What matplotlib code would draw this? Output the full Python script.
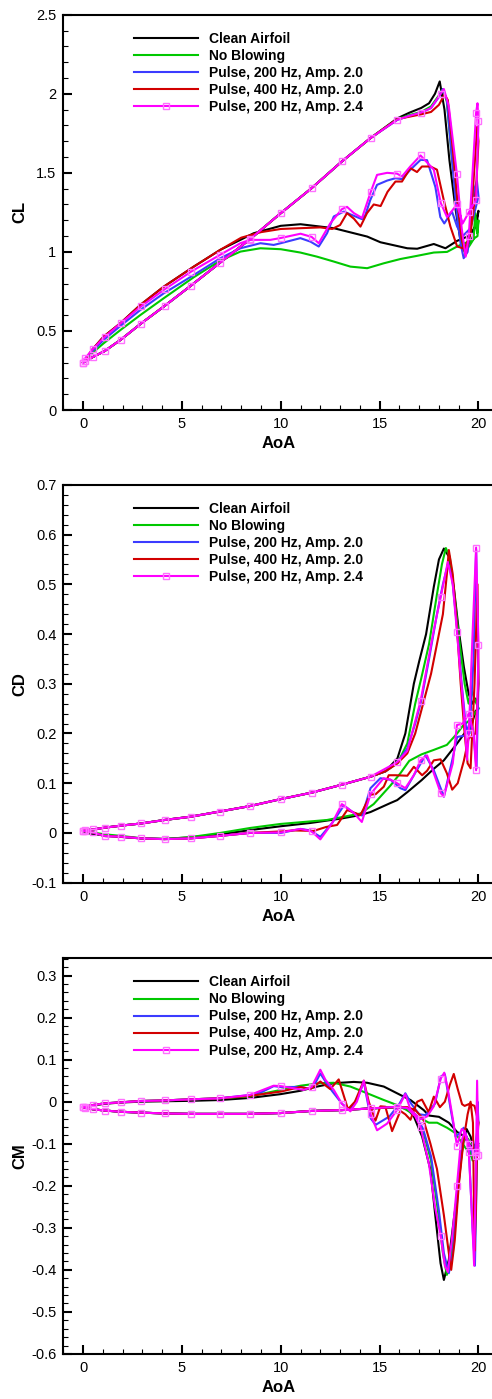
import matplotlib
matplotlib.use('Agg')
import matplotlib.pyplot as plt
from matplotlib.lines import Line2D
from matplotlib.ticker import MultipleLocator, FuncFormatter

plt.rcParams['font.family'] = ['Liberation Sans', 'DejaVu Sans']

# ---------------- legend / series ----------------
labels = ['Clean Airfoil', 'No Blowing', 'Pulse, 200 Hz, Amp. 2.0',
          'Pulse, 400 Hz, Amp. 2.0', 'Pulse, 200 Hz, Amp. 2.4']

# AoA values at which the square symbols of the last series sit
marker_aoa = [0.0, 0.12, 0.49, 1.09, 1.91, 2.93, 4.12, 5.46, 6.91, 8.44, 10.0,
              11.56, 13.09, 14.54, 15.88, 17.07, 18.09, 18.91, 19.51, 19.88, 20.0]

# ================= CL =================
cl_up_aoa = [0.0, 0.49, 1.09, 1.91, 2.93, 4.12, 5.46, 6.91, 8.44, 10.0, 11.56, 13.09, 14.54]
cl_up = [0.30, 0.335, 0.373, 0.445, 0.547, 0.658, 0.787, 0.93, 1.08, 1.245, 1.403, 1.572, 1.72]

cl_clean_aoa = [15.9, 16.5, 17.1, 17.5, 17.8, 18.04, 18.28, 18.53, 18.84, 19.08, 19.25, 19.45, 19.7, 19.88, 20.0,
                19.9, 19.5, 18.92, 18.33, 17.74, 16.9, 16.4, 15.04, 14.37, 12.68, 11.0, 10.0, 8.63, 6.94, 5.6,
                4.08, 2.9, 1.89, 1.04, 0.45, 0.1, 0.0]
cl_clean = [1.845, 1.88, 1.91, 1.94, 2.0, 2.078, 1.9, 1.58, 1.27, 1.08, 1.01, 1.04, 1.09, 1.2, 1.26,
            1.17, 1.1, 1.07, 1.023, 1.05, 1.02, 1.023, 1.061, 1.097, 1.15, 1.175, 1.165, 1.118, 1.013, 0.907,
            0.78, 0.665, 0.549, 0.464, 0.38, 0.31, 0.30]

cl_noblow_aoa = [15.9, 16.5, 17.1, 17.6, 18.0, 18.2, 18.4, 18.65, 18.9, 19.1, 19.3, 19.55, 19.75, 19.84, 19.93, 20.0,
                 19.95, 19.6, 19.2, 18.92, 18.41, 17.74, 16.89, 16.05, 15.21, 14.37, 13.52, 12.68, 11.83, 10.99,
                 10.0, 8.97, 7.96, 6.94, 5.6, 4.08, 2.9, 1.89, 1.04, 0.45, 0.0]
cl_noblow = [1.84, 1.865, 1.885, 1.92, 1.99, 2.03, 1.95, 1.6, 1.3, 1.1, 1.0, 1.04, 1.08, 1.245, 1.12, 1.2,
             1.1, 1.07, 1.05, 1.034, 1.0, 0.996, 0.975, 0.955, 0.928, 0.897, 0.907, 0.939, 0.97, 0.996,
             1.017, 1.023, 1.002, 0.945, 0.84, 0.707, 0.601, 0.506, 0.422, 0.359, 0.30]

cl_p200_aoa = [15.9, 16.5, 17.1, 17.6, 18.0, 18.2, 18.4, 18.65, 18.9, 19.1, 19.25, 19.45, 19.65, 19.8, 19.92,
               20.0, 19.88, 19.6, 19.2, 18.92, 18.66, 18.27, 18.07, 17.82, 17.4, 17.07, 16.55, 16.13, 15.8, 15.38,
               14.87, 14.53, 14.28, 14.11, 13.7, 13.19, 12.68, 12.34, 11.92, 11.5, 10.99, 10.0, 9.64, 8.97, 7.96,
               6.94, 5.6, 4.08, 2.9, 1.89, 1.04, 0.45, 0.0]
cl_p200 = [1.835, 1.86, 1.88, 1.91, 1.98, 2.03, 1.96, 1.6, 1.25, 1.05, 0.96, 1.0, 1.2, 1.4, 1.45,
           1.35, 1.29, 1.15, 1.1, 1.16, 1.255, 1.18, 1.22, 1.41, 1.58, 1.582, 1.519, 1.46, 1.466, 1.451,
           1.424, 1.329, 1.234, 1.207, 1.228, 1.255, 1.224, 1.118, 1.034, 1.065, 1.087, 1.055, 1.044, 1.055, 1.023,
           0.96, 0.854, 0.738, 0.633, 0.532, 0.443, 0.37, 0.30]

cl_p400_aoa = [15.9, 16.5, 17.1, 17.6, 18.0, 18.28, 18.45, 18.7, 18.95, 19.15, 19.35, 19.55, 19.75, 19.93,
               20.0, 19.88, 19.6, 19.3, 18.92, 18.58, 18.24, 17.9, 17.57, 17.14, 16.89, 16.55, 16.13, 15.8, 15.4,
               15.05, 14.7, 14.36, 14.03, 13.7, 13.35, 13.0, 12.6, 12.0, 11.0, 10.0, 9.0, 8.0, 6.94, 5.6, 4.08,
               2.9, 1.89, 1.04, 0.45, 0.0]
cl_p400 = [1.84, 1.855, 1.87, 1.885, 1.93, 1.995, 1.96, 1.65, 1.3, 1.08, 0.98, 1.1, 1.45, 1.79,
           1.7, 1.4, 1.12, 1.02, 1.034, 1.16, 1.33, 1.52, 1.54, 1.54, 1.505, 1.53, 1.445, 1.445, 1.38,
           1.29, 1.30, 1.245, 1.16, 1.21, 1.245, 1.17, 1.145, 1.155, 1.15, 1.145, 1.125, 1.09, 1.013, 0.907, 0.78,
           0.665, 0.549, 0.464, 0.38, 0.30]

cl_p24_aoa = [0.0, 0.12, 0.49, 1.09, 1.91, 2.93, 4.12, 5.46, 6.91, 8.44, 10.0, 11.56, 13.09, 14.54, 15.88,
              16.5, 17.07, 17.6, 18.09, 18.25, 18.5, 18.91, 19.15, 19.35, 19.51, 19.7, 19.88, 19.95, 20.0,
              19.88, 19.51, 19.2, 18.91, 18.41, 18.09, 17.74, 17.07, 16.55, 16.13, 15.88, 15.38, 14.87, 14.54,
              14.11, 13.7, 13.35, 13.09, 12.5, 11.92, 11.56, 11.0, 10.0, 9.47, 8.44, 7.96, 6.91, 5.46, 4.12,
              2.93, 1.91, 1.09, 0.49, 0.12, 0.0]
cl_p24 = [0.30, 0.31, 0.335, 0.373, 0.445, 0.547, 0.658, 0.787, 0.93, 1.08, 1.245, 1.403, 1.572, 1.72, 1.835,
          1.86, 1.88, 1.91, 2.0, 2.03, 1.92, 1.49, 1.15, 0.97, 1.1, 1.5, 1.88, 1.94, 1.825,
          1.33, 1.25, 1.18, 1.30, 1.22, 1.31, 1.52, 1.61, 1.54, 1.477, 1.495, 1.5, 1.487, 1.376,
          1.215, 1.245, 1.285, 1.27, 1.18, 1.055, 1.095, 1.115, 1.088, 1.076, 1.076, 1.055, 0.98, 0.875, 0.763,
          0.655, 0.55, 0.462, 0.385, 0.33, 0.30]

# ================= CD =================
cd_up_aoa = [0.0, 0.49, 1.09, 1.91, 2.93, 4.12, 5.46, 6.91, 8.44, 10.0, 11.56, 13.09, 14.54]
cd_up = [0.0045, 0.007, 0.0105, 0.0146, 0.019, 0.026, 0.0327, 0.043, 0.054, 0.068, 0.081, 0.097, 0.113]

cd_clean_aoa = [15.3, 15.9, 16.3, 16.73, 17.0, 17.35, 17.74, 18.0, 18.25, 18.5, 18.75, 19.0, 19.26, 19.5, 19.7,
                19.85, 20.0,
                19.85, 19.6, 19.34, 18.92, 18.25, 17.74, 17.12, 16.4, 15.89, 15.54, 14.54, 14.03, 13.07, 11.5,
                10.0, 8.5, 6.9, 5.43, 4.11, 2.9, 1.89, 1.04, 0.12, 0.0]
cd_clean = [0.124, 0.15, 0.2, 0.3, 0.345, 0.4, 0.495, 0.55, 0.572, 0.556, 0.495, 0.408, 0.334, 0.28, 0.26,
            0.27, 0.25,
            0.245, 0.21, 0.203, 0.18, 0.146, 0.129, 0.106, 0.082, 0.066, 0.06, 0.042, 0.036, 0.029, 0.02,
            0.0134, 0.006, -0.003, -0.009, -0.012, -0.011, -0.008, -0.005, 0.0, 0.0045]

cd_noblow_aoa = [15.3, 15.9, 16.4, 16.8, 17.1, 17.5, 17.9, 18.15, 18.35, 18.55, 18.8, 19.05, 19.3, 19.5, 19.65,
                 19.8, 20.0,
                 19.8, 19.5, 19.2, 18.92, 18.4, 17.74, 17.12, 16.5, 16.05, 15.54, 14.7, 14.03, 12.34, 9.98,
                 8.46, 6.95, 5.43, 4.11, 2.9, 1.89, 1.09, 0.12, 0.0]
cd_noblow = [0.124, 0.14, 0.18, 0.26, 0.31, 0.38, 0.48, 0.54, 0.573, 0.555, 0.47, 0.38, 0.3, 0.26, 0.287,
             0.27, 0.25,
             0.24, 0.225, 0.215, 0.2, 0.177, 0.167, 0.158, 0.145, 0.12, 0.095, 0.058, 0.039, 0.026, 0.018,
             0.01, 0.0, -0.0084, -0.0124, -0.0104, -0.006, -0.0027, 0.0027, 0.0045]

cd_p200_aoa = [15.3, 15.9, 16.4, 16.8, 17.1, 17.5, 17.9, 18.2, 18.45, 18.65, 18.9, 19.15, 19.4, 19.55, 19.75, 19.88,
               20.0, 19.9, 19.75, 19.6, 19.34, 18.92, 18.67, 18.25, 17.74, 17.32, 16.73, 16.3, 16.05, 15.55,
               15.04, 14.54, 14.11, 13.7, 13.19, 12.6, 12.0, 11.5, 11.0, 10.0, 8.44, 6.91, 5.46, 4.12, 2.93,
               1.91, 1.09, 0.49, 0.12, 0.0]
cd_p200 = [0.124, 0.142, 0.17, 0.22, 0.265, 0.35, 0.44, 0.5, 0.54, 0.52, 0.42, 0.3, 0.2, 0.2, 0.35, 0.57,
           0.3, 0.13, 0.2, 0.227, 0.196, 0.193, 0.146, 0.073, 0.126, 0.156, 0.116, 0.086, 0.09, 0.107,
           0.11, 0.09, 0.035, 0.04, 0.055, 0.02, -0.008, 0.005, 0.008, 0.0, 0.0, -0.006, -0.011, -0.0125, -0.011,
           -0.0076, -0.0063, 0.001, 0.003, 0.0045]

cd_p400_aoa = [15.3, 15.9, 16.4, 16.8, 17.2, 17.6, 17.9, 18.2, 18.4, 18.5, 18.7, 18.9, 19.1, 19.3, 19.45, 19.6,
               19.8, 19.95,
               20.0, 19.85, 19.5, 19.26, 18.95, 18.67, 18.4, 18.08, 17.74, 17.4, 17.15, 16.73, 16.4, 15.8, 15.46,
               15.21, 14.8, 14.54, 14.03, 13.36, 12.85, 12.3, 11.66, 10.65, 10.0, 8.44, 6.91, 5.46, 4.12, 2.93,
               1.91, 1.09, 0.49, 0.12, 0.0]
cd_p400 = [0.124, 0.14, 0.16, 0.2, 0.26, 0.32, 0.38, 0.44, 0.52, 0.569, 0.52, 0.42, 0.3, 0.2, 0.14, 0.13,
           0.3, 0.5,
           0.3, 0.2, 0.19, 0.145, 0.1, 0.087, 0.12, 0.148, 0.146, 0.125, 0.116, 0.133, 0.115, 0.116, 0.116,
           0.093, 0.078, 0.077, 0.036, 0.046, 0.016, 0.012, 0.004, 0.005, 0.003, 0.0, -0.006, -0.011, -0.0125, -0.011,
           -0.0076, -0.0063, 0.001, 0.003, 0.0045]

cd_p24_aoa = [0.0, 0.12, 0.49, 1.09, 1.91, 2.93, 4.12, 5.46, 6.91, 8.44, 10.0, 11.56, 13.09, 14.54, 15.88,
              16.4, 17.07, 17.4, 17.74, 18.09, 18.45, 18.7, 18.91, 19.07, 19.24, 19.42, 19.51, 19.7, 19.88, 20.0,
              19.88, 19.75, 19.51, 19.2, 18.91, 18.7, 18.25, 18.09, 17.74, 17.4, 17.07, 16.73, 16.3, 15.88,
              15.55, 15.2, 14.54, 14.1, 13.7, 13.09, 12.6, 12.0, 11.56, 11.0, 10.0, 8.44, 6.91, 5.46, 4.12,
              2.93, 1.91, 1.09, 0.49, 0.12, 0.0]
cd_p24 = [0.0045, 0.005, 0.007, 0.0105, 0.0146, 0.019, 0.026, 0.0327, 0.043, 0.054, 0.068, 0.081, 0.097, 0.113,
          0.142, 0.165, 0.265, 0.335, 0.408, 0.475, 0.545, 0.5, 0.405, 0.328, 0.255, 0.147, 0.2, 0.4, 0.574, 0.378,
          0.126, 0.2, 0.24, 0.22, 0.217, 0.14, 0.073, 0.08, 0.12, 0.156, 0.146, 0.116, 0.09, 0.1,
          0.107, 0.11, 0.078, 0.022, 0.04, 0.058, 0.02, -0.013, 0.003, 0.008, 0.001, 0.0, -0.006, -0.011, -0.0125,
          -0.011, -0.0076, -0.0063, 0.001, 0.003, 0.0045]

# ================= CM =================
cm_up_aoa = [0.0, 0.49, 1.09, 1.91, 2.93, 4.12, 5.46, 6.91, 8.44, 10.0, 11.56, 13.09, 14.54, 15.88]
cm_up = [-0.013, -0.018, -0.021, -0.024, -0.026, -0.028, -0.029, -0.029, -0.029, -0.027, -0.022, -0.02, -0.016, -0.013]

cm_clean_aoa = [16.4, 16.73, 17.15, 17.57, 17.82, 18.08, 18.25, 18.5, 18.75, 19.0, 19.2, 19.4, 19.6, 19.75, 19.93, 20.0,
                19.7, 19.45, 19.2, 18.92, 18.5, 18.0, 17.5, 17.23, 16.56, 16.05, 15.21, 14.37, 13.69, 12.68,
                11.84, 11.0, 10.0, 8.47, 6.95, 5.45, 4.1, 2.9, 1.9, 1.1, 0.5, 0.0]
cm_clean = [-0.017, -0.035, -0.083, -0.162, -0.273, -0.384, -0.424, -0.376, -0.281, -0.194, -0.1, -0.065, -0.083,
            -0.11, -0.095, -0.1,
            -0.11, -0.095, -0.08, -0.072, -0.05, -0.036, -0.033, -0.02, 0.004, 0.016, 0.036, 0.045, 0.047, 0.044,
            0.036, 0.026, 0.018, 0.009, 0.004, 0.002, 0.001, 0.0, -0.002, -0.005, -0.009, -0.013]

cm_noblow_aoa = [16.4, 16.8, 17.2, 17.6, 17.95, 18.2, 18.4, 18.6, 18.85, 19.1, 19.3, 19.5, 19.7, 19.85, 19.95, 20.0,
                 19.76, 19.43, 19.17, 18.84, 18.41, 17.91, 17.49, 16.9, 16.05, 15.21, 14.37, 13.52, 12.68, 12.0,
                 11.0, 10.0, 8.47, 6.91, 5.46, 4.11, 2.9, 1.89, 1.09, 0.49, 0.0]
cm_noblow = [-0.015, -0.03, -0.07, -0.14, -0.26, -0.36, -0.412, -0.37, -0.25, -0.14, -0.08, -0.09, -0.14, -0.13,
             -0.1, -0.105,
             -0.139, -0.115, -0.099, -0.075, -0.062, -0.05, -0.05, -0.035, -0.011, 0.004, 0.02, 0.036, 0.045, 0.044,
             0.038, 0.028, 0.013, 0.008, 0.0056, 0.003, 0.0016, -0.0016, -0.004, -0.008, -0.013]

cm_p200_aoa = [16.4, 16.8, 17.2, 17.6, 18.0, 18.25, 18.5, 18.7, 18.9, 19.1, 19.3, 19.5, 19.7, 19.82, 19.9, 19.95,
               20.0, 19.75, 19.5, 19.25, 19.05, 18.84, 18.6, 18.3, 18.1, 17.8, 17.32, 17.0, 16.6, 16.3, 16.0,
               15.5, 14.8, 14.55, 14.2, 13.9, 13.5, 13.1, 12.6, 12.3, 12.0, 11.7, 11.5, 11.0, 10.5, 10.0, 9.64,
               9.0, 8.47, 6.91, 5.46, 4.11, 2.9, 1.89, 1.09, 0.49, 0.0]
cm_p200 = [-0.015, -0.03, -0.065, -0.13, -0.26, -0.36, -0.408, -0.36, -0.25, -0.13, -0.07, -0.1, -0.3, -0.39,
           -0.2, 0.0,
           -0.05, -0.13, -0.1, -0.062, -0.075, -0.083, -0.02, 0.065, 0.06, -0.005, -0.032, -0.03, -0.005, 0.02,
           -0.005, -0.035, -0.055, -0.04, 0.047, 0.01, -0.02, -0.005, 0.025, 0.045, 0.067, 0.04, 0.03, 0.035,
           0.035, 0.035, 0.037, 0.022, 0.016, 0.008, 0.0056, 0.003, 0.0016, -0.0016, -0.004, -0.008, -0.013]

cm_p400_aoa = [16.4, 16.8, 17.2, 17.57, 17.9, 18.25, 18.5, 18.62, 18.8, 19.0, 19.25, 19.45, 19.6, 19.72, 19.8,
               19.87, 19.93, 20.0,
               19.8, 19.55, 19.3, 19.17, 18.95, 18.75, 18.55, 18.3, 18.05, 17.74, 17.48, 17.14, 16.9, 16.56,
               16.3, 16.05, 15.63, 15.29, 15.04, 14.79, 14.45, 14.2, 13.75, 13.4, 12.93, 12.5, 12.0, 11.5, 11.0,
               10.0, 8.47, 6.91, 5.46, 4.11, 2.9, 1.89, 1.09, 0.49, 0.0]
cm_p400 = [-0.013, -0.02, -0.04, -0.1, -0.16, -0.27, -0.36, -0.4, -0.33, -0.2, -0.09, -0.03, 0.0, -0.05, -0.355,
           -0.25, -0.1, -0.05,
           -0.01, -0.005, -0.01, -0.006, 0.03, 0.066, 0.04, 0.0, -0.013, 0.012, -0.025, 0.005, 0.0, -0.043,
           -0.03, -0.022, -0.07, -0.012, -0.011, -0.045, 0.0, 0.05, 0.0, -0.018, 0.053, 0.03, 0.048, 0.03, 0.035,
           0.024, 0.014, 0.008, 0.0056, 0.003, 0.0016, -0.0016, -0.004, -0.008, -0.013]

cm_p24_aoa = [0.0, 0.12, 0.49, 1.09, 1.91, 2.93, 4.12, 5.46, 6.91, 8.44, 10.0, 11.56, 13.09, 14.54, 15.88,
              16.4, 16.8, 17.07, 17.5, 17.8, 18.09, 18.3, 18.45, 18.65, 18.91, 19.1, 19.3, 19.51, 19.65, 19.78,
              19.88, 19.93, 20.0,
              19.88, 19.51, 19.3, 19.15, 18.91, 18.7, 18.45, 18.27, 18.09, 17.74, 17.4, 17.07, 16.56, 16.3,
              15.88, 15.38, 14.87, 14.54, 14.2, 13.85, 13.52, 13.09, 12.68, 12.26, 12.0, 11.56, 11.16, 10.0,
              9.64, 8.44, 6.91, 5.46, 4.12, 2.93, 1.91, 1.09, 0.49, 0.12, 0.0]
cm_p24 = [-0.013, -0.015, -0.018, -0.021, -0.024, -0.026, -0.028, -0.029, -0.029, -0.029, -0.027, -0.022, -0.02,
          -0.016, -0.012, -0.015, -0.035, -0.06, -0.15, -0.25, -0.32, -0.39, -0.405, -0.33, -0.2, -0.1, -0.07,
          -0.12, -0.25, -0.39, -0.12, 0.05, -0.127,
          -0.13, -0.1, -0.07, -0.065, -0.105, -0.04, 0.03, 0.069, 0.055, -0.011, -0.035, -0.042, -0.019, 0.018,
          -0.02, -0.052, -0.068, -0.03, 0.05, 0.0, -0.023, -0.005, 0.028, 0.052, 0.076, 0.035, 0.028, 0.037,
          0.038, 0.016, 0.008, 0.0056, 0.003, 0.0016, -0.0016, -0.004, -0.008, -0.0117, -0.013]

# ---------------- styling ----------------
colors = ['#000000', '#00c800', '#3c3cff', '#d20000', '#ff00ff']
mk_edge = '#ff70ff'
LW = 1.5

fig = plt.figure(figsize=(4.92, 13.99), dpi=100)
left, width = 63.3 / 492, 431.0 / 492
panels = [
    dict(rect=[left, 0.7069, width, 0.2826], ylim=(0, 2.5), major=0.5, minor=0.1, label='CL',
         up=(cl_up_aoa, cl_up),
         series=[(cl_clean_aoa, cl_clean), (cl_noblow_aoa, cl_noblow), (cl_p200_aoa, cl_p200),
                 (cl_p400_aoa, cl_p400)],
         mag=(cl_p24_aoa, cl_p24)),
    dict(rect=[left, 0.3691, width, 0.2843], ylim=(-0.1, 0.7), major=0.1, minor=0.02, label='CD',
         up=(cd_up_aoa, cd_up),
         series=[(cd_clean_aoa, cd_clean), (cd_noblow_aoa, cd_noblow), (cd_p200_aoa, cd_p200),
                 (cd_p400_aoa, cd_p400)],
         mag=(cd_p24_aoa, cd_p24)),
    dict(rect=[left, 0.0322, width, 0.2828], ylim=(-0.6, 0.341), major=0.1, minor=0.02, label='CM',
         up=(cm_up_aoa, cm_up),
         series=[(cm_clean_aoa, cm_clean), (cm_noblow_aoa, cm_noblow), (cm_p200_aoa, cm_p200),
                 (cm_p400_aoa, cm_p400)],
         mag=(cm_p24_aoa, cm_p24)),
]

fmt = FuncFormatter(lambda v, p: '%g' % round(v, 6))

for p in panels:
    ax = fig.add_axes(p['rect'])
    ua, uv = p['up']
    for (a, v), c in zip(p['series'], colors[:4]):
        ax.plot(list(ua) + list(a), list(uv) + list(v), color=c, lw=LW, solid_joinstyle='round', zorder=2)
    ma, mv = p['mag']
    idx = [i for i, a in enumerate(ma) if a in marker_aoa]
    ax.plot(ma, mv, color=colors[4], lw=LW, marker='s', markevery=idx, ms=5, mfc='none',
            mec=mk_edge, mew=1.0, solid_joinstyle='round', zorder=3)

    ax.set_xlim(-1, 20.8)
    ax.set_ylim(*p['ylim'])
    ax.xaxis.set_major_locator(MultipleLocator(5))
    ax.xaxis.set_minor_locator(MultipleLocator(1))
    ax.yaxis.set_major_locator(MultipleLocator(p['major']))
    ax.yaxis.set_minor_locator(MultipleLocator(p['minor']))
    ax.xaxis.set_major_formatter(fmt)
    ax.yaxis.set_major_formatter(fmt)
    ax.tick_params(which='both', direction='in', top=False, right=False)
    ax.tick_params(which='major', length=6.5, width=1.5, labelsize=10.5, pad=5)
    ax.tick_params(which='minor', length=3.5, width=0.8)
    for s in ax.spines.values():
        s.set_linewidth(1.5)
    ax.set_xlabel('AoA', fontsize=12, fontweight='bold')
    ax.set_ylabel(p['label'], fontsize=12, fontweight='bold')
    ax.xaxis.set_label_coords(0.5, -0.066)
    ax.yaxis.set_label_coords(-0.084, 0.5)

    handles = [Line2D([0], [0], color=c, lw=LW) for c in colors[:4]]
    handles.append(Line2D([0], [0], color=colors[4], lw=LW, marker='s', ms=5, mfc='none',
                          mec=mk_edge, mew=1.0))
    ax.legend(handles, labels, loc='upper left', bbox_to_anchor=(0.164, 0.957), frameon=False,
              prop=dict(family='Liberation Sans', weight='bold', size=10), handlelength=4.6,
              handletextpad=0.8, labelspacing=0.22, borderpad=0, borderaxespad=0, numpoints=1)

fig.savefig('out.png', dpi=100)
